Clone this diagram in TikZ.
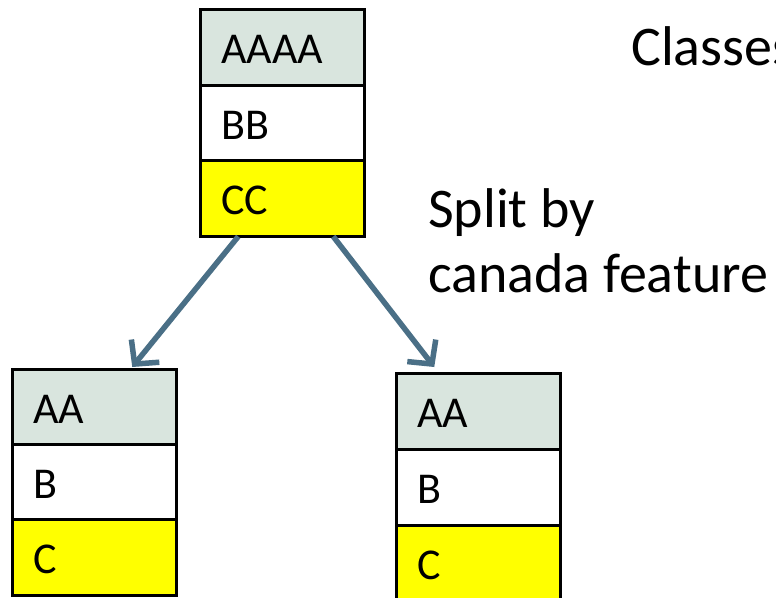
\documentclass[tikz,border=0pt]{standalone}
\usepackage{fontspec}
\setmainfont{Carlito}
\usetikzlibrary{arrows.meta}
\definecolor{hdr}{HTML}{D9E5DE}
\definecolor{yel}{HTML}{FFFF00}
\definecolor{arrc}{HTML}{4A6F86}
\tikzset{
  cell/.style={draw=black, line width=2.5pt, rectangle, anchor=north west,
    minimum height=76pt, inner xsep=21pt, inner ysep=0pt, text width=122pt,
    align=left, font=\fontsize{44}{44}\selectfont, text height=32pt, text depth=0pt},
  hcell/.style={cell, fill=hdr},
  wcell/.style={cell, fill=white},
  ycell/.style={cell, fill=yel},
  arr/.style={draw=arrc, line width=5.5pt, -{Straight Barb[length=17pt,width=36pt,line width=5.5pt]}},
  lbl/.style={anchor=base west, inner sep=0pt, font=\fontsize{56}{56}\selectfont}
}
\begin{document}
\begin{tikzpicture}[x=1pt,y=-1pt]
\useasboundingbox (0,0) rectangle (776,597);
\clip (0,0) rectangle (776,597);
% top box
\node[hcell] (ta) at (199,8) {AAAA};
\node[wcell] (tb) at (199,84) {BB};
\node[ycell] (tc) at (199,159) {CC};
% left box
\node[hcell] (la) at (11,368) {AA};
\node[wcell] (lb) at (11,443) {B};
\node[ycell] (lc) at (11,518) {C};
% right box
\node[hcell] (ra) at (395,372) {AA};
\node[wcell] (rb) at (395,448) {B};
\node[ycell] (rc) at (395,524) {C};
% arrows
\draw[arr] ([xshift=-44pt,yshift=1pt]tc.south) -- ([xshift=38pt,yshift=1pt]la.north);
\draw[arr] ([xshift=51pt,yshift=1pt]tc.south) -- ([xshift=-44pt,yshift=5pt]ra.north);
% labels
\node[lbl] (cls) at (631,65) {Classes};
\node[lbl] (sp1) at (428,227) {Split by};
\node[lbl] (sp2) at (428,292) {canada feature};
\end{tikzpicture}
\end{document}
